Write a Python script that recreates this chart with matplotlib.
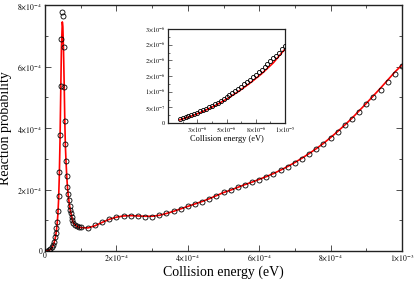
import numpy as np
import matplotlib
matplotlib.use("Agg")
import matplotlib.pyplot as plt
from matplotlib.ticker import FixedLocator, FixedFormatter, MultipleLocator, NullFormatter

# ---------------- data ----------------
# main panel: collision energy (units of 1e-5 eV), reaction probability (units of 1e-4)
energy_main = [0.5, 1.0, 1.5, 1.9, 2.2, 2.5, 2.8, 3.0, 3.2, 3.4, 3.6, 3.8, 4.0, 4.2, 4.4, 4.6,
               4.85, 5.0, 5.2, 5.4, 5.55, 5.7, 5.9, 6.1, 6.3, 6.5, 6.7, 6.9, 7.1, 7.3, 7.5, 7.7,
               7.9, 8.5, 9.0, 9.5, 10.0, 12, 14, 16, 18, 20, 22, 24, 26, 28, 30, 32, 34, 36, 38,
               40, 42, 44, 46, 48, 50, 52, 54, 56, 58, 60, 62, 64, 66, 68, 70, 72, 74, 76, 78,
               80, 82, 84, 86, 88, 90, 92, 94, 96, 98, 100]
prob_exact = [0.01, 0.03, 0.07, 0.13, 0.20, 0.30, 0.45, 0.58, 0.75, 0.95, 1.29, 1.78, 2.56, 3.77,
              5.37, 6.89, 7.76, 7.64, 6.62, 5.32, 4.23, 3.47, 2.92, 2.45, 2.08, 1.84, 1.66, 1.47,
              1.33, 1.23, 1.12, 1.01, 0.90, 0.85, 0.81, 0.78, 0.77, 0.76, 0.84, 0.93, 1.03, 1.10,
              1.14, 1.14, 1.13, 1.12, 1.12, 1.17, 1.22, 1.30, 1.38, 1.47, 1.53, 1.60, 1.70, 1.80,
              1.91, 1.97, 2.08, 2.16, 2.24, 2.32, 2.41, 2.50, 2.62, 2.74, 2.86, 3.00, 3.15, 3.32,
              3.49, 3.67, 3.88, 4.09, 4.30, 4.53, 4.77, 5.00, 5.25, 5.49, 5.75, 6.03]
prob_fit = [0.01, 0.02, 0.05, 0.10, 0.16, 0.25, 0.38, 0.50, 0.66, 0.88, 1.18, 1.65, 2.40, 3.55,
            5.10, 6.60, 7.45, 7.30, 6.45, 5.25, 4.20, 3.45, 2.88, 2.42, 2.06, 1.82, 1.63, 1.46,
            1.32, 1.21, 1.10, 1.00, 0.92, 0.84, 0.80, 0.77, 0.76, 0.75, 0.82, 0.93, 1.03, 1.10,
            1.14, 1.15, 1.14, 1.13, 1.13, 1.16, 1.22, 1.29, 1.37, 1.45, 1.53, 1.61, 1.70, 1.80,
            1.90, 1.98, 2.07, 2.16, 2.24, 2.33, 2.42, 2.52, 2.63, 2.75, 2.88, 3.02, 3.17, 3.33,
            3.50, 3.69, 3.89, 4.10, 4.32, 4.56, 4.80, 5.05, 5.30, 5.56, 5.82, 6.05]

# inset: collision energy (units of 1e-6 eV), reaction probability (units of 1e-6)
energy_inset = [1.0, 1.25, 1.5, 1.75, 2.0, 2.25, 2.5, 2.75, 3.0, 3.25, 3.5, 3.75, 4.0, 4.25,
                4.5, 4.75, 5.0, 5.25, 5.5, 5.75, 6.0, 6.25, 6.5, 6.75, 7.0, 7.25, 7.5, 7.75,
                8.0, 8.25, 8.5, 8.75, 9.0, 9.25, 9.5, 9.75, 10.0]
prob_inset_exact = [0.13, 0.16, 0.19, 0.22, 0.25, 0.29, 0.33, 0.37, 0.41, 0.45, 0.50, 0.55,
                    0.60, 0.65, 0.71, 0.77, 0.83, 0.89, 0.95, 1.02, 1.09, 1.16, 1.23, 1.30,
                    1.38, 1.46, 1.54, 1.62, 1.70, 1.79, 1.88, 1.97, 2.06, 2.15, 2.25, 2.35, 2.46]
energy_inset_fit = [1.0, 2.0, 3.0, 4.0, 5.0, 6.0, 7.0, 8.0, 9.0, 10.0]
prob_inset_fit = [0.10, 0.22, 0.37, 0.55, 0.76, 1.00, 1.27, 1.57, 1.92, 2.36]

main_xticks = [0, 2e-4, 4e-4, 6e-4, 8e-4, 1e-3]
main_xlabels = ["0", r"$2{\times}10^{-4}$", r"$4{\times}10^{-4}$", r"$6{\times}10^{-4}$",
                r"$8{\times}10^{-4}$", r"$1{\times}10^{-3}$"]
main_yticks = [0, 2e-4, 4e-4, 6e-4, 8e-4]
main_ylabels = ["0", r"$2{\times}10^{-4}$", r"$4{\times}10^{-4}$", r"$6{\times}10^{-4}$",
                r"$8{\times}10^{-4}$"]
inset_xticks = [2.5e-6, 5e-6, 7.5e-6, 1e-5]
inset_xlabels = [r"$3{\times}10^{-6}$", r"$5{\times}10^{-6}$", r"$8{\times}10^{-6}$",
                 r"$1{\times}10^{-5}$"]
inset_yticks = [0, 0.5e-6, 1e-6, 1.5e-6, 2e-6, 2.5e-6, 3e-6]
inset_ylabels = ["0", r"$5{\times}10^{-7}$", r"$1{\times}10^{-6}$", r"$2{\times}10^{-6}$",
                 r"$2{\times}10^{-6}$", r"$2{\times}10^{-6}$", r"$3{\times}10^{-6}$"]

# ---------------- style ----------------
plt.rcParams['font.family'] = ['Liberation Serif', 'DejaVu Serif']
plt.rcParams['mathtext.fontset'] = 'stix'

fig = plt.figure(figsize=(4.15, 2.82), dpi=100)
ax = fig.add_axes([45/415, 1-251/282, 357/415, 246/282])

ex = np.array(energy_main) * 1e-5
ax.plot(ex, np.array(prob_fit) * 1e-4, color='#ff0000', lw=1.2, zorder=2)
ax.plot(ex, np.array(prob_exact) * 1e-4, ls='none', marker='o', ms=3.6, mfc='none',
        mec='black', mew=0.6, zorder=3)

ax.set_xlim(0, 1e-3)
ax.set_ylim(0, 8e-4)
ax.xaxis.set_major_locator(FixedLocator(main_xticks))
ax.xaxis.set_major_formatter(FixedFormatter(main_xlabels))
ax.xaxis.set_minor_locator(MultipleLocator(1e-4))
ax.yaxis.set_major_locator(FixedLocator(main_yticks))
ax.yaxis.set_major_formatter(FixedFormatter(main_ylabels))
ax.yaxis.set_minor_locator(MultipleLocator(1e-4))
ax.tick_params(which='both', direction='in', top=True, right=True, labelsize=5.5,
               width=0.6, colors='#333333', labelcolor='black')
ax.tick_params(which='major', length=4, pad=2)
ax.tick_params(axis='x', which='major', pad=0.8)
ax.tick_params(which='minor', length=2)
for s in ax.spines.values():
    s.set_linewidth(1.0)
    s.set_color('#222222')
ax.set_xlabel("Collision energy (eV)", fontsize=10)
ax.xaxis.set_label_coords(0.5, -0.06)
ax.set_ylabel("Reaction probability", fontsize=10)
ax.yaxis.set_label_coords(-0.093, 0.5)

# ---------------- inset ----------------
ins = fig.add_axes([168/415, 1-123/282, 117/415, 94/282])
ins.plot(np.array(energy_inset_fit) * 1e-6, np.array(prob_inset_fit) * 1e-6,
         color='#ff0000', lw=1.2, zorder=2)
ins.plot(np.array(energy_inset) * 1e-6, np.array(prob_inset_exact) * 1e-6, ls='none',
         marker='o', ms=3.0, mfc='none', mec='black', mew=0.6, zorder=3)
ins.set_xlim(0, 1e-5)
ins.set_ylim(0, 3e-6)
ins.xaxis.set_major_locator(FixedLocator(inset_xticks))
ins.xaxis.set_major_formatter(FixedFormatter(inset_xlabels))
ins.xaxis.set_minor_locator(MultipleLocator(1.25e-6))
ins.xaxis.set_minor_formatter(NullFormatter())
ins.yaxis.set_major_locator(FixedLocator(inset_yticks))
ins.yaxis.set_major_formatter(FixedFormatter(inset_ylabels))
ins.yaxis.set_minor_locator(MultipleLocator(0.25e-6))
ins.yaxis.set_minor_formatter(NullFormatter())
ins.tick_params(which='both', direction='in', labelsize=4.5, width=0.5, colors='#333333',
                labelcolor='black')
ins.tick_params(which='major', length=3, pad=2)
ins.tick_params(which='minor', length=1.5)
for s in ins.spines.values():
    s.set_linewidth(0.9)
    s.set_color('#222222')
ins.set_xlabel("Collision energy (eV)", fontsize=6, labelpad=0)

fig.savefig("out.png", dpi=100)
